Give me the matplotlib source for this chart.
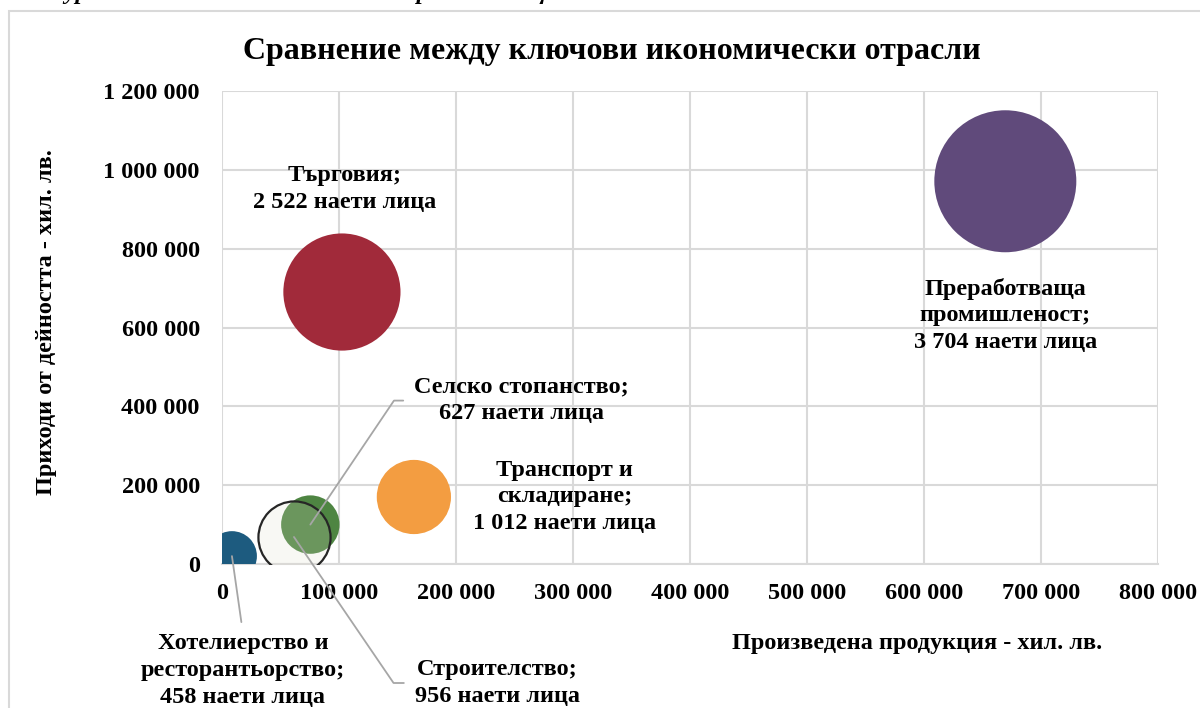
import matplotlib
matplotlib.use('Agg')
import matplotlib.pyplot as plt
from matplotlib.patches import Rectangle

plt.rcParams['font.family'] = ['Liberation Serif', 'DejaVu Serif']
plt.rcParams['font.weight'] = 'bold'

# ─── данни ───────────────────────────────────────────────────────────────
sectors = [
    "Преработваща\nпромишленост",
    "Търговия",
    "Транспорт и\nскладиране",
    "Селско стопанство",
    "Строителство",
    "Хотелиерство и\nресторантьорство",
]
production = [669500, 102500, 164000, 75500, 61500, 8500]       # хил. лв.
revenue = [971000, 690000, 170000, 100000, 68500, 20000]        # хил. лв.
employees = [3704, 2522, 1012, 627, 956, 458]
employees_text = ["3 704", "2 522", "1 012", "627", "956", "458"]

x_ticks = [0, 100000, 200000, 300000, 400000, 500000, 600000, 700000, 800000]
y_ticks = [0, 200000, 400000, 600000, 800000, 1000000, 1200000]

# ─── стил ────────────────────────────────────────────────────────────────
face_colors = ["#604A7B", "#A12A3A", "#F39D41", "#4E8542",
               (0.88, 0.87, 0.80, 0.2), "#1D5B7F"]
edge_colors = ["none", "none", "none", "none", "#262626", "none"]
# отместване на надписа от центъра на балона (пиксели, нагоре е +)
label_offsets = [(0, -134), (3, 103), (151, 0), (104, 124), (121, -146), (11, -77)]
label_anchor = [("center", "center"), ("center", "center"), ("center", "center"),
                ("left", "center"), ("left", "center"), ("center", "top")]
leaders = [None, None, None,
           dict(connectionstyle="angle,angleA=0,angleB=56,rad=0", relpos=(0, 0.5)),
           dict(connectionstyle="angle,angleA=0,angleB=-55.7,rad=0", relpos=(0, 0.5)),
           dict(connectionstyle="arc3", relpos=(0.5, 1))]

FS = 17.5


def fmt(v):
    return f"{v:,.0f}".replace(",", " ")


fig = plt.figure(figsize=(12, 7.08), dpi=100)
ax = fig.add_axes([222 / 1200, 1 - 564 / 708, 936 / 1200, 473 / 708])

# рамка на диаграмата
fig.patches.append(Rectangle((9 / 1200, -0.2), 1.2, 1.2 - 11 / 708,
                             transform=fig.transFigure, fill=False,
                             edgecolor="#D9D9D9", lw=1.5, zorder=0))

size_scale = (142 * 0.72) ** 2 / max(employees)
for i in range(len(sectors)):
    ax.scatter(production[i], revenue[i], s=employees[i] * size_scale,
               facecolors=[face_colors[i]], edgecolors=edge_colors[i],
               linewidths=1.6, zorder=3 + i)

for i in range(len(sectors)):
    dx, dy = label_offsets[i]
    ha, va = label_anchor[i]
    text = f"{sectors[i]};\n{employees_text[i]} наети лица"
    arrow = None
    if leaders[i] is not None:
        arrow = dict(arrowstyle="-", color="#A6A6A6", lw=1.3,
                     shrinkA=6, shrinkB=0, **leaders[i])
    ax.annotate(text, xy=(production[i], revenue[i]),
                xytext=(dx * 0.72, dy * 0.72), textcoords="offset points",
                ha=ha, va=va, multialignment="center", fontsize=FS,
                fontweight="bold", linespacing=1.36, arrowprops=arrow,
                annotation_clip=False, zorder=20)

ax.set_xlim(0, 800000)
ax.set_ylim(0, 1200000)
ax.set_xticks(x_ticks)
ax.set_yticks(y_ticks)
ax.set_xticklabels([fmt(v) for v in x_ticks], fontsize=FS, fontweight="bold")
ax.set_yticklabels([fmt(v) for v in y_ticks], fontsize=FS, fontweight="bold")
ax.tick_params(length=0, pad=14)
ax.tick_params(axis="y", pad=16)
ax.grid(True, color="#D9D9D9", lw=1.5)
ax.set_axisbelow(True)
for side in ["top", "right", "left"]:
    ax.spines[side].set_visible(False)
ax.spines["bottom"].set_color("#D9D9D9")
ax.spines["bottom"].set_linewidth(1.5)

fig.text(612 / 1200, 1 - 52 / 708, "Сравнение между ключови икономически отрасли",
         ha="center", va="center", fontsize=23, fontweight="bold")
fig.text(47 / 1200, 1 - 322 / 708, "Приходи от дейността - хил. лв.",
         rotation=90, ha="center", va="center", fontsize=FS, fontweight="bold")
fig.text(917 / 1200, 1 - 643 / 708, "Произведена продукция - хил. лв.",
         ha="center", va="center", fontsize=FS, fontweight="bold")
# надпис над диаграмата, почти изцяло отрязан от горния край
fig.text(22 / 1200, 1 + 1 / 708, "Фигура 5. Основни икономически отрасли в общината",
         ha="left", va="baseline", fontsize=FS, fontweight="bold", style="italic")

fig.savefig("out.png", dpi=100)
